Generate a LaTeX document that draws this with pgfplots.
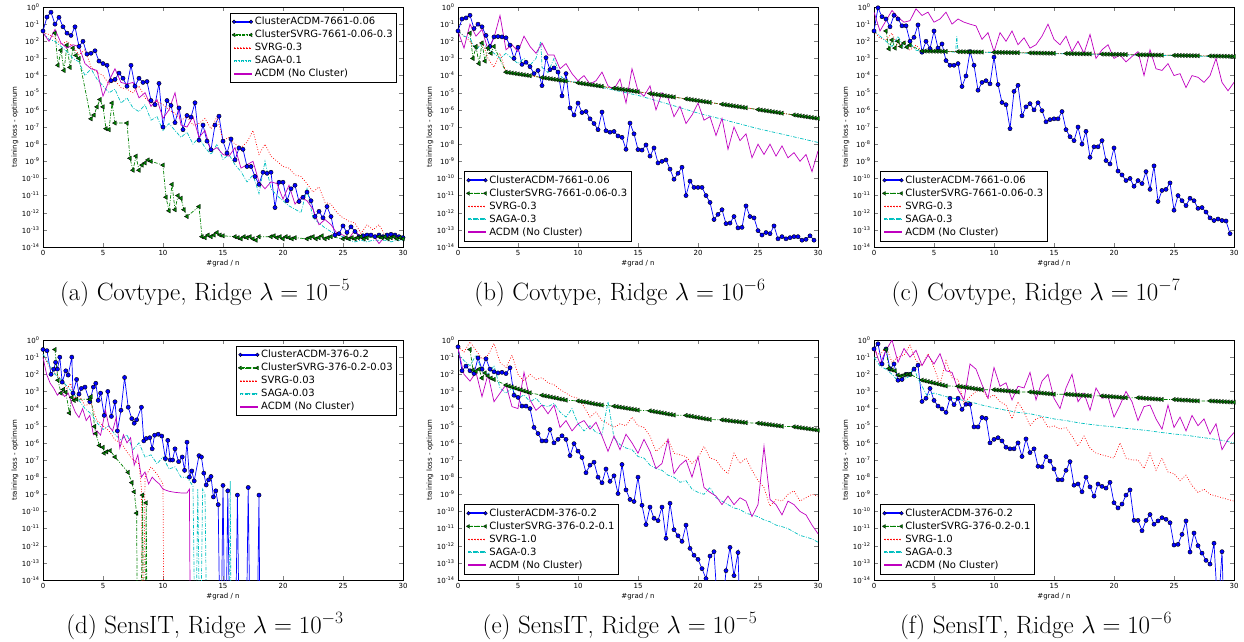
\documentclass[border=0pt]{standalone}
\usepackage{pgfplots}
\pgfplotsset{compat=1.18}
\usepackage{fontspec}
\newfontfamily\dv{DejaVu Sans}
\definecolor{mblue}{rgb}{0,0,1}
\definecolor{mgreen}{rgb}{0,0.5,0}
\definecolor{mred}{rgb}{1,0,0}
\definecolor{mcyan}{rgb}{0,0.75,0.75}
\definecolor{mmag}{rgb}{0.75,0,0.75}
\newcommand{\ytl}[1]{10\textsuperscript{#1}}

\pgfplotsset{
  every axis/.append style={
    scale only axis, width=360pt, height=240pt,
    xmin=0, xmax=30, ymin=1e-14, ymax=1,
    xtick={0,5,10,15,20,25,30}, xticklabels={0,5,10,15,20,25,30},
    ytick={1e-14,1e-13,1e-12,1e-11,1e-10,1e-9,1e-8,1e-7,1e-6,1e-5,1e-4,1e-3,1e-2,1e-1,1},
    yticklabels={\ytl{-14},\ytl{-13},\ytl{-12},\ytl{-11},\ytl{-10},\ytl{-9},\ytl{-8},\ytl{-7},\ytl{-6},\ytl{-5},\ytl{-4},\ytl{-3},\ytl{-2},\ytl{-1},\ytl{0}},
    yminorticks=false, tick align=inside, major tick length=4pt,
    tick label style={font=\dv\fontsize{7}{8}\selectfont},
    xlabel={\#grad / n}, ylabel={training loss - optimum},
    label style={font=\dv\fontsize{7}{8}\selectfont},
    xlabel style={at={(axis description cs:0.5,-0.067)},anchor=center},
    ylabel style={at={(axis description cs:-0.078,0.5)},anchor=center},
    title style={at={(axis description cs:0.45,0)},anchor=base,yshift=-59pt,font=\fontsize{25}{30}\selectfont},
    axis line style={line width=0.7pt},
    legend style={font=\dv\fontsize{10}{12}\selectfont,fill=white,inner sep=2pt,cells={anchor=west}},
    legend cell align=left,
  },
  sACDMc/.style={color=mblue,line width=0.7pt,mark=*,mark size=2.1pt,mark options={solid,fill=mblue,draw=black,line width=0.4pt},
    legend image code/.code={\fill[mblue] (0pt,-0.4pt) rectangle (17pt,0.4pt);
      \path[mark=*,mark size=1.8pt,mark options={fill=mblue,draw=black,line width=0.4pt}] plot coordinates {(0pt,0pt) (17pt,0pt)};}},
  sSVRGc/.style={color=mgreen,line width=0.7pt,dash pattern=on 3.5pt off 1.5pt on 1pt off 1.5pt,mark=triangle*,mark size=2.5pt,mark options={solid,rotate=90,fill=mgreen,draw=black,line width=0.4pt},
    legend image code/.code={\fill[mgreen] (2pt,-0.4pt) rectangle (4pt,0.4pt) (5.5pt,-0.4pt) rectangle (6.5pt,0.4pt) (8pt,-0.4pt) rectangle (11pt,0.4pt) (12.5pt,-0.4pt) rectangle (13.5pt,0.4pt);
      \path[mark=triangle*,mark size=2.2pt,mark options={rotate=90,fill=mgreen,draw=black,line width=0.4pt}] plot coordinates {(0pt,0pt) (17pt,0pt)};}},
  sSVRG/.style={color=mred,line width=0.7pt,dash pattern=on 0.8pt off 1.8pt,
    legend image code/.code={\fill[mred] (0pt,-0.45pt) rectangle (1pt,0.45pt) (3pt,-0.45pt) rectangle (4pt,0.45pt) (6pt,-0.45pt) rectangle (7pt,0.45pt) (9pt,-0.45pt) rectangle (10pt,0.45pt) (12pt,-0.45pt) rectangle (13pt,0.45pt) (15pt,-0.45pt) rectangle (16pt,0.45pt);}},
  sSAGA/.style={color=mcyan,line width=0.7pt,dash pattern=on 3.5pt off 1.5pt on 0.8pt off 1.5pt,
    legend image code/.code={\fill[mcyan] (0pt,-0.45pt) rectangle (3pt,0.45pt) (4.5pt,-0.45pt) rectangle (5.5pt,0.45pt) (7pt,-0.45pt) rectangle (10pt,0.45pt) (11.5pt,-0.45pt) rectangle (12.5pt,0.45pt) (14pt,-0.45pt) rectangle (17pt,0.45pt);}},
  sACDM/.style={color=mmag,line width=0.7pt,
    legend image code/.code={\fill[mmag] (0pt,-0.45pt) rectangle (17pt,0.45pt);}},
}

\begin{document}
\begin{tikzpicture}
\path[use as bounding box] (0pt,0pt) rectangle (1244pt,-641pt);

% (a)
\begin{semilogyaxis}[at={(43pt,-7pt)},anchor=north west,title={(a) Covtype, Ridge $\lambda = 10^{-5}$},
  legend style={at={(axis description cs:0.983,0.975)},anchor=north east}]
\addplot[sACDMc] table[header=false,row sep=\\,x expr=\coordindex/3,y index=0]{0.04\\0.26\\0.5\\0.1\\0.25\\0.07\\0.03\\0.022\\0.07\\0.005\\0.01\\0.0018\\0.002\\0.0028\\7e-4\\5e-4\\4e-4\\5e-5\\6e-5\\1.4e-4\\7e-5\\2.4e-5\\4e-4\\2.4e-5\\7e-5\\4e-5\\4.5e-5\\3.5e-6\\2e-6\\3.5e-5\\1e-7\\3.5e-6\\1.8e-6\\1.8e-7\\1.3e-6\\7e-8\\4.7e-7\\3.8e-7\\2.6e-6\\1.7e-8\\1.3e-7\\1.5e-8\\4.7e-9\\1.3e-7\\4.3e-7\\1.5e-8\\3e-9\\2e-8\\1.2e-9\\6e-9\\5e-9\\5e-10\\5e-10\\1.3e-10\\4.5e-11\\2.3e-10\\2e-10\\2.3e-10\\2e-12\\6e-11\\6e-11\\5e-12\\2.5e-11\\4e-11\\4.5e-12\\8e-12\\1.6e-11\\5e-12\\6e-13\\1.2e-12\\5e-13\\2.3e-12\\6e-13\\5e-14\\6e-14\\1.7e-13\\7e-14\\1.5e-13\\8e-14\\4e-14\\4.5e-14\\5e-14\\5e-14\\4e-14\\5e-14\\4e-14\\5e-14\\5.5e-14\\5e-14\\4e-14\\3.5e-14\\};
\addplot[sSVRGc] coordinates {(1,3e-2) (1.25,4e-4) (1.5,3e-3) (1.75,2e-4) (2,6e-3) (2.25,3e-4) (2.5,4e-3) (2.75,1.5e-3) (3,1e-3)
(4,3e-7) (4.25,5e-7) (4.5,1.5e-6) (4.75,4e-6) (5,1.5e-6) (5.25,8e-8) (5.5,7e-8) (5.75,2.5e-6) (6,1.7e-7)
(7,1.7e-7) (7.25,1.5e-9) (7.5,3e-10) (7.75,2e-9) (8,3e-10) (8.25,6e-10) (8.5,8e-10) (8.75,1.2e-9) (9,1e-9)
(10,6e-10) (10.25,8e-12) (10.5,1.3e-12) (10.75,4.5e-11) (11,1.5e-12) (11.25,1e-11) (11.5,7e-12) (11.75,1.5e-12) (12,6e-13)
(13,2.3e-12) (13.25,4e-14) (13.5,3.5e-14) (13.75,5e-14) (14,4e-14) (14.25,5e-14) (14.5,7e-14) (14.75,5e-14) (15,4.5e-14)
(16,4e-14) (16.25,3.5e-14) (16.5,3e-14) (16.75,4e-14) (17,3.5e-14) (17.25,4e-14) (17.5,3e-14) (17.75,2.5e-14) (18,4e-14)
(19,4e-14) (19.25,4.5e-14) (19.5,3.5e-14) (19.75,4e-14) (20,3e-14) (20.25,4e-14) (20.5,3.5e-14) (20.75,3e-14) (21,3.5e-14)
(22,3e-14) (22.25,3.5e-14) (22.5,4e-14) (22.75,3e-14) (23,3.5e-14) (23.25,4.5e-14) (23.5,3e-14) (23.75,3.5e-14) (24,4e-14)
(25,3e-14) (25.25,3.5e-14) (25.5,3e-14) (25.75,3.5e-14) (26,3e-14) (26.25,3.5e-14) (26.5,4e-14) (26.75,3e-14) (27,3.5e-14)
(28,4e-14) (28.25,3.5e-14) (28.5,4e-14) (28.75,3e-14) (29,3.5e-14) (29.25,4e-14) (29.5,3e-14) (29.75,3.5e-14) (30,3e-14)};
\addplot[sSVRG] table[header=false,row sep=\\,x expr=\coordindex/2,y index=0]{3.2e-2\\2.5e-2\\1.6e-2\\6.3e-3\\1e-2\\5e-3\\1.6e-3\\3.2e-3\\3.2e-4\\1.6e-4\\1e-4\\3.2e-5\\5e-5\\2e-5\\1.6e-5\\1e-5\\2.5e-5\\5e-6\\2.5e-6\\3.2e-6\\2e-6\\1e-6\\6.3e-7\\2.5e-7\\4e-7\\1.3e-7\\1.6e-7\\3.2e-7\\7.9e-8\\4e-7\\1.6e-8\\2.5e-8\\1e-8\\6.3e-9\\1.3e-8\\6.3e-8\\2.5e-9\\1e-8\\2e-9\\1e-9\\5e-10\\4e-10\\1.6e-10\\1.3e-10\\5e-11\\1.6e-11\\3.2e-11\\4e-12\\3.2e-12\\1e-12\\5e-13\\3.2e-13\\2.5e-13\\6.3e-14\\2e-13\\1e-13\\2e-13\\5e-14\\4e-14\\3.2e-14\\3.2e-14\\};
\addplot[sSAGA] table[header=false,row sep=\\,x expr=\coordindex/2,y index=0]{3.2e-2\\1.3e-2\\1e-2\\5e-3\\2.5e-3\\1e-3\\6.3e-4\\1e-4\\2.5e-4\\6.3e-5\\2.5e-5\\1e-5\\1.6e-5\\2.5e-6\\5e-6\\1.3e-6\\7.9e-7\\2e-6\\2.5e-7\\4e-7\\6.3e-8\\1.6e-7\\6.3e-8\\2.5e-8\\5e-8\\1e-8\\2.5e-8\\6.3e-9\\2.5e-9\\1e-8\\1.3e-9\\2.5e-9\\6.3e-10\\2.5e-10\\6.3e-11\\1.6e-10\\1.3e-11\\1e-9\\2.5e-11\\1e-11\\5e-12\\2.5e-12\\1.6e-12\\1e-12\\2.5e-11\\5e-13\\2.5e-13\\1.3e-13\\7.9e-14\\5e-14\\4e-14\\2.5e-14\\2e-14\\2.5e-14\\2e-14\\2.5e-14\\2.5e-14\\2.5e-14\\2e-14\\2.5e-14\\2.5e-14\\};
\addplot[sACDM] table[header=false,row sep=\\,x expr=\coordindex/2,y index=0]{3.2e-2\\1e-2\\5e-2\\7.9e-3\\4e-3\\6.3e-3\\5e-3\\5e-4\\2.5e-4\\2e-4\\6.3e-6\\5e-5\\2.5e-4\\4e-5\\3.2e-5\\4e-5\\5e-6\\1e-5\\1.6e-6\\4e-6\\3.2e-7\\1e-6\\1e-5\\1.3e-7\\1e-7\\4e-7\\2.5e-8\\6.3e-8\\4e-9\\6.3e-9\\2.5e-9\\2e-9\\6.3e-9\\4e-10\\6.3e-10\\1e-9\\6.3e-11\\2.5e-11\\6.3e-11\\5e-11\\6.3e-12\\4e-11\\3.2e-12\\7.9e-12\\5e-12\\1.6e-12\\2e-13\\4e-13\\2e-13\\6.3e-14\\5e-14\\3.2e-14\\1e-13\\3.2e-14\\4e-14\\5e-14\\1.6e-14\\4e-14\\3.2e-14\\4e-14\\3.2e-14\\};
\legend{ClusterACDM-7661-0.06,ClusterSVRG-7661-0.06-0.3,SVRG-0.3,SAGA-0.1,ACDM (No Cluster)}
\end{semilogyaxis}

% (b)
\begin{semilogyaxis}[at={(458pt,-7pt)},anchor=north west,title={(b) Covtype, Ridge $\lambda = 10^{-6}$},
  legend style={at={(axis description cs:0.017,0.025)},anchor=south west}]
\addplot[sACDMc] table[header=false,row sep=\\,x expr=\coordindex/3,y index=0]{0.04\\0.2\\0.23\\0.33\\0.055\\0.1\\0.07\\0.022\\0.005\\0.018\\0.019\\0.018\\0.016\\0.006\\0.001\\0.0045\\4.5e-4\\6e-4\\3.3e-4\\1.3e-4\\2e-4\\2.6e-5\\1.1e-3\\2.2e-4\\2.8e-4\\1.6e-4\\6.5e-6\\1.3e-4\\1.3e-6\\5e-7\\2.5e-6\\7e-7\\8e-7\\3e-7\\1.6e-7\\7e-8\\7.5e-7\\6e-8\\5e-8\\5.5e-8\\3e-8\\2.5e-8\\5e-9\\1.7e-7\\4e-8\\4.8e-9\\4.5e-9\\9e-9\\2e-9\\6e-9\\8e-10\\1e-9\\1.2e-9\\3.5e-10\\9e-11\\2e-10\\4.5e-10\\1e-11\\7e-11\\3e-11\\3e-11\\3e-11\\1e-11\\4e-12\\4e-13\\8e-13\\1.5e-12\\2.3e-13\\2.5e-13\\6e-13\\1.3e-13\\1.4e-13\\2.5e-12\\6e-13\\5e-13\\9e-14\\5e-14\\7e-14\\6e-14\\1.7e-13\\3e-14\\4e-14\\3e-14\\3.5e-14\\4e-14\\4e-14\\2.5e-14\\2.8e-14\\4.5e-14\\2.5e-14\\};
\addplot[sSVRGc] coordinates {(1,0.03) (1.25,1e-3) (1.5,5e-3) (1.75,5e-4) (2,8e-3) (2.25,7e-4) (2.5,4e-3) (2.75,2e-3) (3,5e-3)
(4,1.58e-4) (4.25,1.49e-4) (4.5,1.40e-4) (4.75,1.32e-4) (5,1.24e-4) (5.25,1.17e-4) (5.5,1.10e-4) (5.75,1.04e-4) (6,9.8e-5)
(7,7.7e-5) (7.25,7.25e-5) (7.5,6.83e-5) (7.75,6.44e-5) (8,6.06e-5) (8.25,5.71e-5) (8.5,5.38e-5) (8.75,5.07e-5) (9,4.77e-5)
(10,3.77e-5) (10.25,3.55e-5) (10.5,3.34e-5) (10.75,3.15e-5) (11,2.97e-5) (11.25,2.8e-5) (11.5,2.64e-5) (11.75,2.48e-5) (12,2.34e-5)
(13,1.84e-5) (13.25,1.73e-5) (13.5,1.63e-5) (13.75,1.54e-5) (14,1.45e-5) (14.25,1.37e-5) (14.5,1.29e-5) (14.75,1.21e-5) (15,1.14e-5)
(16,8.95e-6) (16.25,8.43e-6) (16.5,7.94e-6) (16.75,7.48e-6) (17,7.04e-6) (17.25,6.64e-6) (17.5,6.26e-6) (17.75,5.89e-6) (18,5.55e-6)
(19,4.37e-6) (19.25,4.12e-6) (19.5,3.88e-6) (19.75,3.65e-6) (20,3.44e-6) (20.25,3.24e-6) (20.5,3.05e-6) (20.75,2.88e-6) (21,2.71e-6)
(22,2.13e-6) (22.25,2.01e-6) (22.5,1.89e-6) (22.75,1.78e-6) (23,1.68e-6) (23.25,1.58e-6) (23.5,1.49e-6) (23.75,1.40e-6) (24,1.32e-6)
(25,1.04e-6) (25.25,9.8e-7) (25.5,9.2e-7) (25.75,8.7e-7) (26,8.2e-7) (26.25,7.7e-7) (26.5,7.3e-7) (26.75,6.8e-7) (27,6.4e-7)
(28,5.06e-7) (28.25,4.77e-7) (28.5,4.49e-7) (28.75,4.23e-7) (29,3.98e-7) (29.25,3.75e-7) (29.5,3.54e-7) (29.75,3.33e-7) (30,3.14e-7)};
\addplot[sSVRG] coordinates {(0,0.04) (0.5,0.02) (1,0.01) (1.5,3e-3) (2,0.01) (2.5,1e-3) (3,3e-4) (3.5,2e-3) (4,1.6e-4) (7,7.7e-5) (10,3.8e-5) (13,1.8e-5) (16,9e-6) (19,4.4e-6) (22,2.1e-6) (25,1.04e-6) (28,5e-7) (30,3.1e-7)};
\addplot[sSAGA] coordinates {(0,0.04) (0.5,0.02) (1,0.015) (1.5,3e-3) (2,8e-3) (2.5,4e-3) (3,2e-3) (3.5,1e-3) (4,2e-3) (4.5,1e-3) (5,5e-4) (5.5,1e-3) (6,4e-4) (6.5,1e-3) (6.9,1e-2) (7,3e-4) (7.5,1.5e-4) (8,1e-3) (8.5,1e-4) (9,5e-5) (10,4e-5) (12.5,1.7e-5) (15,7e-6) (17.5,2.2e-6) (20,6.5e-7) (22.5,2.3e-7) (25,8e-8) (27.5,3.2e-8) (30,1.26e-8)};
\addplot[sACDM] table[header=false,row sep=\\,x expr=\coordindex/2,y index=0]{4e-2\\4e-3\\0.1\\2e-2\\5e-2\\3.2e-3\\1.6e-2\\0.32\\3.2e-3\\6.3e-3\\2.5e-3\\2e-2\\5e-3\\2e-3\\7.9e-3\\1.6e-3\\1.6e-3\\2.5e-4\\5e-4\\1.3e-4\\5e-5\\1e-4\\3.2e-5\\5e-5\\1.6e-4\\2.5e-5\\1.6e-5\\6.3e-5\\2.5e-6\\2.5e-4\\1.3e-5\\6.3e-6\\2.5e-5\\1e-6\\1e-5\\5e-6\\4e-7\\1.6e-6\\1.6e-7\\5e-7\\2.5e-6\\2.5e-7\\4e-7\\3.2e-8\\3.2e-7\\5e-9\\1e-7\\1.6e-8\\4e-8\\1.6e-9\\1e-8\\2.5e-9\\1e-8\\2e-9\\7.9e-9\\1.6e-9\\3.2e-9\\1e-9\\2.5e-9\\2.5e-10\\4e-9\\};
\legend{ClusterACDM-7661-0.06,ClusterSVRG-7661-0.06-0.3,SVRG-0.3,SAGA-0.3,ACDM (No Cluster)}
\end{semilogyaxis}

% (c)
\begin{semilogyaxis}[at={(874pt,-7pt)},anchor=north west,title={(c) Covtype, Ridge $\lambda = 10^{-7}$},
  legend style={at={(axis description cs:0.017,0.025)},anchor=south west}]
\addplot[sACDMc] table[header=false,row sep=\\,x expr=\coordindex/3,y index=0]{4e-2\\0.9\\0.27\\0.2\\0.07\\0.33\\0.2\\0.08\\0.08\\0.01\\0.017\\0.09\\2.3e-3\\0.01\\3.7e-3\\0.04\\4e-3\\7e-3\\7.5e-4\\4e-4\\4e-4\\5e-4\\2.3e-5\\9.5e-5\\2.5e-3\\4e-4\\1.4e-5\\4e-5\\5e-5\\3.3e-5\\1.2e-3\\3e-5\\2.7e-6\\2e-6\\8e-8\\1.2e-5\\2.7e-5\\4.5e-7\\1.5e-6\\2.3e-6\\1e-6\\2.6e-6\\9e-7\\2e-7\\2.7e-7\\3e-7\\3e-7\\8e-7\\7e-8\\2.7e-8\\1.6e-8\\1e-7\\1e-8\\5.6e-8\\1.7e-9\\7e-9\\7e-9\\1.6e-8\\1.1e-9\\7e-10\\6e-9\\2.7e-10\\1.6e-10\\7.5e-11\\1e-10\\3.5e-11\\7.5e-11\\5e-11\\2.5e-10\\2.3e-11\\5.4e-10\\4.5e-12\\2e-11\\2.3e-11\\5.5e-11\\1.4e-12\\1e-11\\5e-12\\2.6e-12\\7e-12\\5e-12\\1.8e-12\\2e-12\\1.1e-12\\5e-13\\3.5e-13\\4.3e-13\\3.5e-13\\3.3e-13\\6e-14\\};
\addplot[sSVRGc] coordinates {(1,4e-2) (1.25,3.6e-3) (1.5,1.2e-2) (1.75,4e-3) (2,1e-2) (2.25,5e-3) (2.5,8e-3) (2.75,4.5e-3) (3,6e-3)
(4,2.70e-3) (4.25,2.68e-3) (4.5,2.66e-3) (4.75,2.64e-3) (5,2.63e-3) (5.25,2.61e-3) (5.5,2.59e-3) (5.75,2.57e-3) (6,2.55e-3)
(7,2.48e-3) (7.25,2.46e-3) (7.5,2.45e-3) (7.75,2.43e-3) (8,2.41e-3) (8.25,2.40e-3) (8.5,2.38e-3) (8.75,2.36e-3) (9,2.35e-3)
(10,2.28e-3) (10.25,2.26e-3) (10.5,2.25e-3) (10.75,2.23e-3) (11,2.22e-3) (11.25,2.20e-3) (11.5,2.19e-3) (11.75,2.17e-3) (12,2.16e-3)
(13,2.10e-3) (13.25,2.09e-3) (13.5,2.07e-3) (13.75,2.06e-3) (14,2.04e-3) (14.25,2.03e-3) (14.5,2.01e-3) (14.75,2.00e-3) (15,1.99e-3)
(16,1.93e-3) (16.25,1.92e-3) (16.5,1.90e-3) (16.75,1.89e-3) (17,1.88e-3) (17.25,1.86e-3) (17.5,1.85e-3) (17.75,1.84e-3) (18,1.83e-3)
(19,1.78e-3) (19.25,1.77e-3) (19.5,1.76e-3) (19.75,1.74e-3) (20,1.73e-3) (20.25,1.72e-3) (20.5,1.71e-3) (20.75,1.70e-3) (21,1.68e-3)
(22,1.64e-3) (22.25,1.63e-3) (22.5,1.62e-3) (22.75,1.61e-3) (23,1.60e-3) (23.25,1.58e-3) (23.5,1.57e-3) (23.75,1.56e-3) (24,1.55e-3)
(25,1.51e-3) (25.25,1.50e-3) (25.5,1.49e-3) (25.75,1.48e-3) (26,1.47e-3) (26.25,1.46e-3) (26.5,1.45e-3) (26.75,1.44e-3) (27,1.43e-3)
(28,1.39e-3) (28.25,1.38e-3) (28.5,1.37e-3) (28.75,1.36e-3) (29,1.35e-3) (29.25,1.34e-3) (29.5,1.33e-3) (29.75,1.32e-3) (30,1.31e-3)};
\addplot[sSVRG] coordinates {(0,0.04) (0.5,0.015) (1,0.012) (1.5,0.03) (2,5e-3) (2.5,1e-2) (3,3e-3) (3.5,6e-3) (4,2.7e-3) (10,2.28e-3) (16,1.93e-3) (22,1.64e-3) (30,1.31e-3)};
\addplot[sSAGA] coordinates {(0,0.04) (0.5,0.02) (1,0.01) (1.5,5e-3) (2,0.02) (2.5,4e-3) (3,8e-3) (3.5,3e-3) (4,2.6e-3) (5,2.4e-3) (6,2.5e-3) (6.8,2.3e-3) (6.9,2e-2) (7,2.4e-3) (10,2.2e-3) (15,1.9e-3) (20,1.65e-3) (25,1.45e-3) (30,1.2e-3)};
\addplot[sACDM] table[header=false,row sep=\\,x expr=\coordindex/2,y index=0]{0.5\\4e-2\\0.16\\0.63\\0.25\\0.13\\0.16\\0.79\\0.32\\0.5\\0.13\\0.2\\0.5\\0.1\\0.2\\0.13\\0.1\\7.9e-2\\1.3e-2\\3.2e-2\\2.5e-3\\3.2e-2\\1e-2\\4e-2\\6.3e-3\\1.6e-2\\4e-3\\6.3e-3\\2e-2\\0.1\\1.3e-2\\6.3e-3\\2e-2\\2.5e-3\\1e-2\\2e-3\\2.5e-2\\1e-3\\3.2e-3\\6.3e-3\\1e-3\\1.6e-3\\6.3e-4\\1.3e-3\\2.5e-3\\1e-4\\3.2e-3\\2.5e-4\\2e-4\\5e-4\\1e-4\\1.3e-4\\2e-5\\1e-4\\7.9e-5\\4e-5\\1e-4\\1e-3\\4e-5\\1.3e-5\\4e-5\\};
\legend{ClusterACDM-7661-0.06,ClusterSVRG-7661-0.06-0.3,SVRG-0.3,SAGA-0.3,ACDM (No Cluster)}
\end{semilogyaxis}

% (d)
\begin{semilogyaxis}[at={(43pt,-340pt)},anchor=north west,title={(d) SensIT, Ridge $\lambda = 10^{-3}$},
  legend style={at={(axis description cs:0.983,0.975)},anchor=north east}]
\addplot[sACDMc] coordinates {(0,0.28) (0.33,0.24) (0.67,0.01) (0.9,0.02) (1.05,0.05) (1.2,0.02) (1.4,0.1) (1.6,3.5e-3) (1.9,0.016) (2.1,9e-3) (2.4,0.1) (2.5,8e-4) (2.8,5e-3) (3,7e-4) (3.2,1.5e-3) (3.5,1.8e-3) (3.9,2.5e-4) (4.2,1.8e-3) (4.4,3e-3) (4.6,3e-4) (4.8,8e-4) (5.1,4e-5) (5.4,1e-3) (5.7,3.5e-5) (6,2.5e-4) (6.2,5e-6) (6.5,8e-5) (6.8,6.5e-3) (7.1,1.2e-4) (7.4,2.6e-5) (7.6,1.4e-5) (7.8,2.2e-5) (8.2,1.2e-4) (8.4,1.3e-6) (8.6,1.8e-6) (8.9,2e-6) (9.1,4.5e-7) (9.3,2.8e-6) (9.6,3.2e-6) (9.9,2.5e-6) (10.2,1.2e-7) (10.4,1.4e-6) (10.6,1e-7) (10.8,1e-7) (11,4.5e-7) (11.3,8e-8) (11.6,1.5e-7) (11.8,2.5e-8) (12,1.1e-6) (12.2,1e-8) (12.4,2.3e-8) (12.6,6e-9) (13,1.8e-7) (13.2,1.5e-7) (13.4,1.7e-8) (13.6,3.5e-9) (13.8,7e-9) (14,1.1e-8) (14.2,7e-10) (14.4,1.6e-9) (14.6,2.5e-10) (14.8,1e-20) (15,3.3e-9) (15.2,1e-20) (15.4,1.6e-9) (15.6,1e-20) (16,1e-20) (16.2,9e-10) (16.4,1e-20) (16.9,1e-20) (17.1,2.5e-9) (17.3,1e-20) (17.8,1e-20) (18,9e-10) (18.1,1e-20)};
\addplot[sSVRGc] coordinates {(1,0.28) (1.25,4.5e-3) (1.5,8e-4) (1.7,1.3e-3) (1.9,9e-4) (2.2,5.5e-5) (2.4,4.5e-4) (2.6,3e-4) (2.8,3.5e-4) (3.9,3.5e-4) (4,5e-4) (4.3,9e-6) (4.4,3.5e-6) (4.7,7e-7) (5,5.5e-7) (5.1,2.5e-7) (5.3,3e-7) (5.6,3.5e-7) (6,1.5e-7) (7.1,1.9e-8) (7.4,4.8e-9) (7.6,1.4e-9) (7.8,8e-11) (7.9,1e-20) (8.1,1e-20) (8.3,9e-10) (8.4,1e-20) (8.5,1e-20) (8.6,3.2e-10) (8.7,1e-20)};
\addplot[sSVRG] coordinates {(0,0.15) (0.5,0.03) (1,0.012) (1.5,5e-3) (2,1.5e-3) (2.3,3e-3) (2.6,4e-4) (3,6e-4) (3.5,1.5e-4) (4,2e-4) (4.5,2e-5) (5,1e-5) (5.5,5e-6) (6,1.5e-6) (6.5,1e-6) (7,3e-7) (7.5,1e-7) (8,6e-8) (8.2,2e-9) (8.35,1e-20) (8.5,1e-8) (9,4e-8) (9.5,1.5e-8) (10,4e-9) (10.1,1e-20)};
\addplot[sSAGA] coordinates {(0,0.15) (0.5,0.04) (1,0.01) (1.5,5e-3) (2,2e-3) (2.5,8e-4) (3,3e-4) (3.5,1e-4) (4,5e-5) (4.5,1.5e-5) (5,6e-6) (5.5,1e-5) (6,3e-6) (6.5,1.5e-6) (7,3e-6) (7.5,4e-7) (8,1e-6) (8.5,1.5e-7) (9,2e-7) (9.5,6e-8) (10,1.5e-7) (10.5,3e-8) (11,4e-8) (11.5,1e-8) (12,1e-8) (12.5,3e-9) (12.7,1e-20) (12.9,2e-9) (13.1,1e-20) (13.3,2e-9) (13.5,1e-9) (13.7,1e-20) (15.5,1e-20) (15.6,6e-9) (15.7,1e-20)};
\addplot[sACDM] coordinates {(0,0.1) (0.3,0.01) (0.6,3e-3) (0.9,1.5e-3) (1.2,6e-4) (1.5,1e-3) (1.8,5e-4) (2.1,8e-4) (2.4,2e-4) (2.7,6e-5) (3.0,3e-5) (3.3,1e-4) (3.6,2e-5) (3.9,4e-5) (4.2,3e-6) (4.5,5e-6) (4.8,2.8e-6) (5.2,8e-5) (5.5,9e-6) (5.8,5e-6) (6.1,3e-5) (6.4,5e-7) (6.7,3e-6) (7.0,1e-6) (7.3,2e-6) (7.6,5e-8) (7.9,2e-7) (8.2,1e-8) (8.5,2e-8) (8.8,4e-9) (9.1,1e-8) (9.4,6e-9) (9.7,4e-9) (10.0,2e-9) (10.5,1.5e-9) (11,1.3e-9) (11.5,1.2e-9) (12.0,1.2e-9) (12.2,2e-9) (12.3,1e-20)};
\legend{ClusterACDM-376-0.2,ClusterSVRG-376-0.2-0.03,SVRG-0.03,SAGA-0.03,ACDM (No Cluster)}
\end{semilogyaxis}

% (e)
\begin{semilogyaxis}[at={(458pt,-340pt)},anchor=north west,title={(e) SensIT, Ridge $\lambda = 10^{-5}$},
  legend style={at={(axis description cs:0.017,0.025)},anchor=south west}]
\addplot[sACDMc] table[header=false,row sep=\\,x expr=\coordindex/3,y index=0]{0.4\\0.016\\0.03\\0.016\\0.011\\0.09\\0.02\\0.08\\0.02\\0.014\\0.012\\0.013\\0.011\\0.024\\6e-4\\4.5e-4\\1.4e-4\\1.4e-4\\1e-4\\8e-6\\3.5e-6\\1.3e-6\\1.3e-6\\6e-6\\1e-6\\1.6e-6\\2.6e-6\\1.6e-6\\1.8e-7\\9e-7\\3.3e-7\\1.4e-7\\1.8e-8\\5e-8\\7.5e-8\\1e-8\\4.7e-9\\3e-8\\5.7e-9\\1.2e-8\\1.1e-9\\5.5e-8\\1.8e-9\\5e-10\\3.8e-10\\1e-8\\2.3e-10\\1.7e-11\\1.8e-10\\4e-11\\2.9e-11\\1.8e-10\\2.7e-12\\3e-10\\8.6e-12\\3.8e-12\\1.8e-12\\1.6e-11\\7e-13\\2.8e-13\\1.6e-13\\4.6e-14\\1.2e-14\\2.5e-13\\4.5e-13\\1e-16\\1e-16\\3.5e-14\\8e-13\\1.8e-14\\4e-13\\1e-20\\};
\addplot[sSVRGc] coordinates {(1,0.28) (1.25,1.8e-2) (1.5,1.5e-2) (1.75,2e-2) (2,6e-3) (2.25,1.2e-2) (2.5,8e-3) (2.75,6e-3) (3,5e-3)
(4,2.34e-3) (4.25,2.04e-3) (4.5,1.82e-3) (4.75,1.58e-3) (5,1.38e-3) (5.25,1.23e-3) (5.5,1.07e-3) (5.75,9.5e-4) (6,8.3e-4)
(7,6e-4) (7.25,5.5e-4) (7.5,5.1e-4) (7.75,4.7e-4) (8,4.3e-4) (8.25,4e-4) (8.5,3.6e-4) (8.75,3.4e-4) (9,3.1e-4)
(10,2.8e-4) (10.25,2.6e-4) (10.5,2.45e-4) (10.75,2.3e-4) (11,2.1e-4) (11.25,1.95e-4) (11.5,1.8e-4) (11.75,1.7e-4) (12,1.6e-4)
(13,1.38e-4) (13.25,1.29e-4) (13.5,1.21e-4) (13.75,1.13e-4) (14,1.06e-4) (14.25,9.9e-5) (14.5,9.3e-5) (14.75,8.7e-5) (15,8.1e-5)
(16,7.4e-5) (16.25,6.9e-5) (16.5,6.4e-5) (16.75,6e-5) (17,5.6e-5) (17.25,5.2e-5) (17.5,4.8e-5) (17.75,4.5e-5) (18,4.2e-5)
(19,4e-5) (19.25,3.7e-5) (19.5,3.5e-5) (19.75,3.2e-5) (20,3e-5) (20.25,2.8e-5) (20.5,2.6e-5) (20.75,2.45e-5) (21,2.3e-5)
(22,2.2e-5) (22.25,2.1e-5) (22.5,2e-5) (22.75,1.9e-5) (23,1.8e-5) (23.25,1.75e-5) (23.5,1.65e-5) (23.75,1.58e-5) (24,1.5e-5)
(25,1.41e-5) (25.25,1.34e-5) (25.5,1.27e-5) (25.75,1.2e-5) (26,1.15e-5) (26.25,1.09e-5) (26.5,1.03e-5) (26.75,9.8e-6) (27,9.3e-6)
(28,8.7e-6) (28.25,8.2e-6) (28.5,7.7e-6) (28.75,7.3e-6) (29,6.9e-6) (29.25,6.5e-6) (29.5,6.2e-6) (29.75,5.8e-6) (30,5.5e-6)};
\addplot[sSVRG] table[header=false,row sep=\\,x expr=\coordindex/2,y index=0]{0.4\\0.2\\0.79\\0.25\\7.9e-2\\0.13\\0.63\\5e-2\\2.5e-2\\0.13\\1e-2\\4e-3\\1e-2\\5e-3\\6.3e-3\\3.2e-3\\2.5e-3\\1.3e-3\\7.9e-4\\5e-4\\4e-4\\1.3e-4\\3.2e-5\\6.3e-5\\2e-5\\1.3e-5\\7.9e-6\\1.3e-5\\1e-5\\3.2e-5\\1e-5\\7.9e-6\\2.5e-6\\3.2e-7\\6.3e-7\\1.6e-6\\2.5e-7\\2e-7\\1.6e-7\\6.3e-8\\1.3e-7\\6.3e-7\\1.3e-7\\1e-7\\3.2e-8\\1.6e-8\\2.5e-7\\6.3e-8\\1.3e-7\\2.5e-8\\6.3e-9\\2.5e-9\\2e-10\\5e-10\\4e-10\\1e-9\\1.6e-9\\4e-10\\6.3e-10\\1e-9\\7.9e-10\\};
\addplot[sSAGA] table[header=false,row sep=\\,x expr=\coordindex/2,y index=0]{0.16\\6.3e-2\\3.2e-2\\0.13\\1.6e-2\\1e-2\\3.2e-2\\1.6e-3\\7.9e-4\\1.6e-3\\4e-4\\6.3e-4\\2.5e-4\\4e-4\\1.6e-4\\1.3e-4\\2e-4\\6.3e-5\\3.2e-5\\1e-4\\1.3e-5\\5e-6\\1e-5\\4e-6\\3.2e-6\\2.5e-4\\2e-6\\7.9e-7\\5e-7\\4e-7\\1.6e-7\\1.3e-7\\5e-8\\3.2e-8\\2.5e-8\\1.3e-8\\1e-8\\5e-9\\6.3e-9\\2e-9\\1.3e-9\\1e-9\\2.5e-9\\6.3e-10\\4e-10\\2.5e-10\\1.6e-10\\1.3e-10\\7.9e-11\\6.3e-11\\5e-11\\3.2e-11\\2.5e-11\\1.6e-11\\1.3e-11\\1e-11\\6.3e-12\\4e-12\\3.2e-12\\2.5e-12\\1.6e-12\\};
\addplot[sACDM] table[header=false,row sep=\\,x expr=\coordindex/2,y index=0]{0.32\\1e-2\\4e-3\\1.3e-2\\5e-4\\1e-2\\2.5e-4\\7.9e-4\\2.5e-3\\1.3e-4\\1e-4\\1.3e-2\\3.2e-4\\7.9e-5\\1.6e-4\\5e-5\\1.6e-4\\7.9e-6\\2e-5\\5e-6\\1.3e-5\\2e-5\\6.3e-6\\1.6e-5\\2.5e-6\\3.2e-7\\2.5e-6\\4e-7\\3.2e-6\\1e-6\\2.5e-7\\1.6e-6\\3.2e-7\\3.2e-8\\6.3e-8\\1.6e-6\\1.6e-8\\5e-8\\1e-7\\1e-8\\1.6e-7\\2.5e-9\\1.3e-9\\7.9e-10\\2.5e-10\\7.9e-10\\2.5e-10\\6.3e-10\\4e-10\\5e-11\\2.5e-10\\6.3e-7\\5e-10\\2.5e-10\\6.3e-11\\4e-10\\2.5e-10\\1e-10\\6.3e-11\\1.6e-11\\5e-12\\};
\legend{ClusterACDM-376-0.2,ClusterSVRG-376-0.2-0.1,SVRG-1.0,SAGA-0.3,ACDM (No Cluster)}
\end{semilogyaxis}

% (f)
\begin{semilogyaxis}[at={(874pt,-340pt)},anchor=north west,title={(f) SensIT, Ridge $\lambda = 10^{-6}$},
  legend style={at={(axis description cs:0.017,0.025)},anchor=south west}]
\addplot[sACDMc] table[header=false,row sep=\\,x expr=\coordindex/3,y index=0]{0.3\\0.6\\0.04\\0.3\\0.02\\0.04\\4.5e-3\\5e-3\\1e-2\\1e-2\\2e-2\\3.4e-2\\2.6e-4\\4e-4\\1.5e-3\\3e-4\\1.4e-4\\9.5e-5\\6e-5\\4e-4\\1.7e-4\\4e-4\\9e-5\\1.8e-4\\1.8e-4\\8.5e-6\\8.5e-6\\3e-5\\2.7e-5\\1e-6\\1.6e-6\\2e-6\\1.3e-6\\5.6e-7\\4.5e-7\\4.5e-7\\1e-6\\1.6e-7\\1.7e-6\\2.7e-7\\4.5e-7\\4.3e-8\\4e-8\\1.6e-7\\8.6e-8\\3e-8\\7e-9\\7e-9\\2.5e-8\\8e-8\\3.4e-9\\4e-9\\1.4e-9\\1e-8\\2.7e-9\\7.8e-10\\4e-9\\2.9e-9\\2.3e-9\\5e-9\\3.2e-10\\1.6e-10\\2.7e-10\\9e-10\\1.8e-9\\3e-11\\3e-11\\7.5e-12\\3e-11\\6.6e-11\\1.8e-11\\2.8e-11\\4.3e-11\\3.5e-11\\2.2e-11\\1.1e-12\\1.2e-12\\4.6e-12\\2.8e-11\\4.3e-13\\5.5e-12\\1e-12\\3.7e-13\\1.4e-13\\8.5e-14\\1.4e-12\\1e-16\\4.5e-13\\1e-20\\};
\addplot[sSVRGc] coordinates {(1,0.28) (1.25,2.2e-2) (1.5,1.8e-2) (1.75,1.6e-2) (2,9e-3) (2.25,8e-3) (2.5,9e-3) (2.75,1e-2) (3,1e-2)
(4,4.57e-3) (4.25,4.15e-3) (4.5,3.76e-3) (4.75,3.41e-3) (5,3.09e-3) (5.25,2.81e-3) (5.5,2.55e-3) (5.75,2.31e-3) (6,2.09e-3)
(7,2.0e-3) (7.25,1.89e-3) (7.5,1.78e-3) (7.75,1.68e-3) (8,1.59e-3) (8.25,1.5e-3) (8.5,1.41e-3) (8.75,1.33e-3) (9,1.26e-3)
(10,1.26e-3) (10.25,1.21e-3) (10.5,1.17e-3) (10.75,1.13e-3) (11,1.09e-3) (11.25,1.05e-3) (11.5,1.01e-3) (11.75,9.7e-4) (12,9.3e-4)
(13,9.3e-4) (13.25,9.0e-4) (13.5,8.6e-4) (13.75,8.3e-4) (14,8.0e-4) (14.25,7.7e-4) (14.5,7.4e-4) (14.75,7.2e-4) (15,6.9e-4)
(16,6.9e-4) (16.25,6.7e-4) (16.5,6.5e-4) (16.75,6.3e-4) (17,6.2e-4) (17.25,6.0e-4) (17.5,5.8e-4) (17.75,5.7e-4) (18,5.5e-4)
(19,5.5e-4) (19.25,5.3e-4) (19.5,5.1e-4) (19.75,5.0e-4) (20,4.8e-4) (20.25,4.7e-4) (20.5,4.5e-4) (20.75,4.4e-4) (21,4.3e-4)
(22,4.3e-4) (22.25,4.2e-4) (22.5,4.0e-4) (22.75,3.9e-4) (23,3.8e-4) (23.25,3.7e-4) (23.5,3.6e-4) (23.75,3.5e-4) (24,3.4e-4)
(25,3.4e-4) (25.25,3.3e-4) (25.5,3.2e-4) (25.75,3.1e-4) (26,3.1e-4) (26.25,3.0e-4) (26.5,2.9e-4) (26.75,2.85e-4) (27,2.8e-4)
(28,2.8e-4) (28.25,2.74e-4) (28.5,2.68e-4) (28.75,2.62e-4) (29,2.56e-4) (29.25,2.5e-4) (29.5,2.45e-4) (29.75,2.4e-4) (30,2.35e-4)};
\addplot[sSVRG] table[header=false,row sep=\\,x expr=\coordindex/2,y index=0]{0.25\\0.13\\0.4\\5e-2\\0.1\\0.13\\0.5\\6.3e-2\\3.2e-2\\0.16\\2.5e-2\\2.5e-3\\6.3e-2\\6.3e-3\\5e-3\\2e-4\\5e-4\\1e-3\\1.3e-3\\4e-4\\6.3e-4\\2.5e-4\\1.6e-4\\2.5e-5\\2.5e-4\\6.3e-5\\1e-5\\2.5e-5\\3.2e-5\\7.9e-6\\1e-5\\6.3e-6\\7.9e-6\\2.5e-6\\6.3e-7\\2.5e-6\\5e-7\\2.5e-7\\2e-7\\1.6e-7\\1.3e-7\\1e-6\\1.3e-7\\1e-7\\1e-7\\3.2e-8\\2.5e-7\\2.5e-8\\1.3e-7\\2e-8\\1.6e-8\\6.3e-9\\1.3e-8\\3.2e-9\\1.3e-9\\2e-9\\1e-9\\7.9e-10\\6.3e-10\\5e-10\\4e-10\\};
\addplot[sSAGA] coordinates {(0,0.1) (0.5,0.03) (1,0.02) (1.5,0.01) (2,4e-3) (2.5,5e-3) (3,8e-3) (3.3,3e-2) (3.6,7e-3) (4,2e-3) (4.4,6e-4) (5,8e-4) (6,5e-4) (7,3.5e-4) (8,2.5e-4) (9,1.6e-4) (10,1.1e-4) (11,8e-5) (12,6e-5) (13,5e-5) (14,3.5e-5) (15,2.5e-5) (16,2e-5) (17,1.5e-5) (18,1.2e-5) (19,1e-5) (20,8.5e-6) (21,7e-6) (22,6e-6) (23,5e-6) (24,4e-6) (25,3.3e-6) (26,2.8e-6) (27,2.2e-6) (28,1.8e-6) (29,1.4e-6) (30,1e-6)};
\addplot[sACDM] table[header=false,row sep=\\,x expr=\coordindex/2,y index=0]{0.4\\4e-2\\0.25\\1\\5e-2\\0.32\\0.1\\0.25\\3.2e-2\\0.13\\4e-2\\0.16\\1.6e-2\\1.3e-2\\1.3e-3\\3.2e-4\\4e-2\\2e-2\\2.5e-3\\4e-4\\2.5e-2\\2e-3\\3.2e-3\\3.2e-4\\2e-3\\1.6e-3\\1.3e-2\\3.2e-4\\4e-3\\1e-2\\4e-4\\1e-4\\1.6e-3\\1e-2\\2.5e-4\\7.9e-4\\7.9e-5\\1.6e-3\\4e-4\\5e-4\\3.2e-5\\1.6e-4\\1e-3\\2.5e-4\\2e-5\\1.3e-4\\1.6e-4\\2.5e-5\\6.3e-6\\1.6e-4\\7.9e-6\\3.2e-5\\5e-6\\4e-5\\1e-5\\2.5e-5\\3.2e-6\\1.3e-5\\4e-7\\1.6e-6\\4e-6\\};
\legend{ClusterACDM-376-0.2,ClusterSVRG-376-0.2-0.1,SVRG-1.0,SAGA-0.3,ACDM (No Cluster)}
\end{semilogyaxis}
\end{tikzpicture}
\end{document}
